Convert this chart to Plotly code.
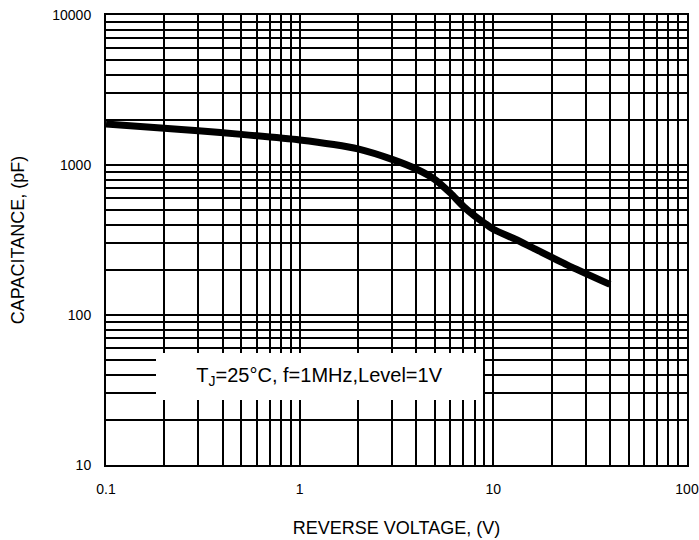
import plotly.graph_objects as go

# Data
voltage = [0.1, 0.2, 0.3, 0.5, 1, 1.5, 2, 3, 4, 5, 6, 7, 8, 9, 10, 13, 16, 24, 40]
capacitance = [1880, 1760, 1690, 1600, 1470, 1370, 1280, 1090, 940, 800, 650, 530, 458, 410, 373, 320, 280, 216, 160]

x_major = [0.1, 1, 10, 100]
x_major_text = ["0.1", "1", "10", "100"]
y_major = [10, 100, 1000, 10000]
y_major_text = ["10", "100", "1000", "10000"]
x_minor = [m * d for d in (0.1, 1, 10) for m in range(2, 10)]
y_minor = [m * d for d in (10, 100, 1000) for m in range(2, 10)]

note_text = "T<sub>J</sub>=25°C, f=1MHz,Level=1V"

font_family = "Liberation Sans, Arial, sans-serif"

fig = go.Figure()
fig.add_trace(go.Scatter(
    x=voltage, y=capacitance, mode="lines",
    line=dict(color="black", width=7, shape="spline", smoothing=0.6),
    showlegend=False, hoverinfo="skip",
))

axis_common = dict(
    type="log",
    showgrid=True, gridcolor="black", gridwidth=2,
    showline=True, linecolor="black", linewidth=2, mirror=True,
    zeroline=False, ticks="",
    tickfont=dict(size=14, color="black", family=font_family),
)

fig.update_xaxes(
    **axis_common,
    range=[-1, 2],
    tickmode="array", tickvals=x_major, ticktext=x_major_text,
    minor=dict(tickmode="array", tickvals=x_minor, showgrid=True,
               gridcolor="black", gridwidth=2, ticks=""),
    ticklabelstandoff=10,
    title=dict(text="REVERSE VOLTAGE, (V)", standoff=26,
               font=dict(size=18, color="black", family=font_family)),
)
fig.update_yaxes(
    **axis_common,
    range=[1, 4],
    tickmode="array", tickvals=y_major, ticktext=y_major_text,
    minor=dict(tickmode="array", tickvals=y_minor, showgrid=True,
               gridcolor="black", gridwidth=2, ticks=""),
    ticklabelstandoff=10,
    title=dict(text="CAPACITANCE, (pF)", standoff=23,
               font=dict(size=18, color="black", family=font_family)),
)

fig.add_annotation(
    xref="paper", yref="paper", x=0.367, y=0.1967,
    xanchor="center", yanchor="middle",
    text=note_text, showarrow=False,
    width=327, height=47, bgcolor="white", borderpad=0, borderwidth=0,
    font=dict(size=20, color="black", family=font_family),
    align="center", valign="middle",
)

fig.update_layout(
    width=699, height=540,
    margin=dict(l=106, r=12, t=15, b=75, autoexpand=False),
    paper_bgcolor="white", plot_bgcolor="white",
    font=dict(family=font_family, color="black"),
)

fig.write_html(
    "out.html",
    config={"displayModeBar": False},
    post_script="document.body.style.margin='0';document.body.style.padding='0';",
)
